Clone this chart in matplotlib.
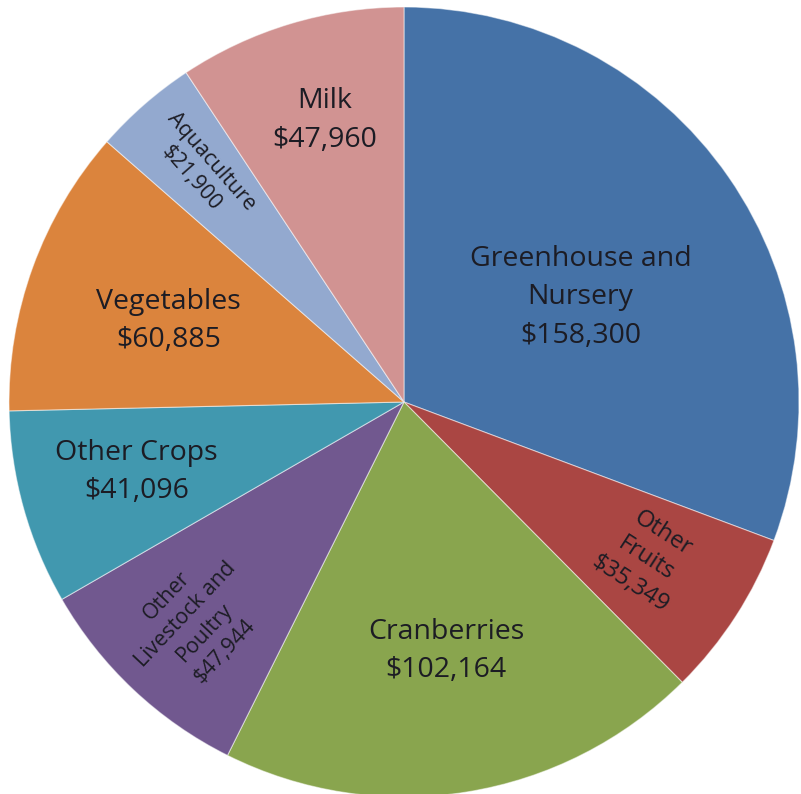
import numpy as np
import matplotlib
matplotlib.use('Agg')
from matplotlib import pyplot as plt

labels = ['Greenhouse and\nNursery', 'Other\nFruits', 'Cranberries', 'Other\nLivestock and\nPoultry',
          'Other Crops', 'Vegetables', 'Aquaculture', 'Milk']
values = [158300, 35349, 102164, 47944, 41096, 60885, 21900, 47960]
colors = ['#4572A7', '#AA4643', '#89A54E', '#71588F', '#4198AF', '#DB843D', '#93A9CF', '#D19392']

# label placement: radial distance, angle nudge, font size, rotate along radius or not
label_r = [0.52, 0.73, 0.64, 0.77, 0.70, 0.63, 0.78, 0.74]
label_da = [-4, 0, 0.5, 0, -1, 1, 0, -1]
label_fs = [20.5, 17, 20.5, 15.5, 20.5, 20.5, 15.5, 20.5]
label_rot = [False, True, False, True, False, False, True, False]

plt.rcParams['font.family'] = ['Open Sans', 'DejaVu Sans']

fig = plt.figure(figsize=(8.01, 7.94), dpi=100)
ax = fig.add_axes([0, 0, 1, 1])
wedges, _ = ax.pie(values, colors=colors, startangle=90, counterclock=False,
                   wedgeprops=dict(edgecolor=(1, 1, 1, 0.5), linewidth=0.8))

for w, lab, v, r, da, fs, rot in zip(wedges, labels, values, label_r, label_da, label_fs, label_rot):
    mid = (w.theta1 + w.theta2) / 2.0
    x = r * np.cos(np.radians(mid + da))
    y = r * np.sin(np.radians(mid + da))
    angle = 0
    if rot:
        angle = mid
        if angle > 90:
            angle -= 180
        elif angle < -90:
            angle += 180
    ax.text(x, y, '%s\n$%s' % (lab, format(v, ',')), ha='center', va='center',
            fontsize=fs, rotation=angle, rotation_mode='anchor', color='#1c1c24',
            linespacing=1.5 if not rot else 1.35)

# pie centre at (404, 402) px, radius 395 px
ax.set_xlim(-404 / 395, (801 - 404) / 395)
ax.set_ylim(-(794 - 402) / 395, 402 / 395)
ax.set_aspect('auto')
ax.axis('off')

fig.savefig('out.png', dpi=100)
